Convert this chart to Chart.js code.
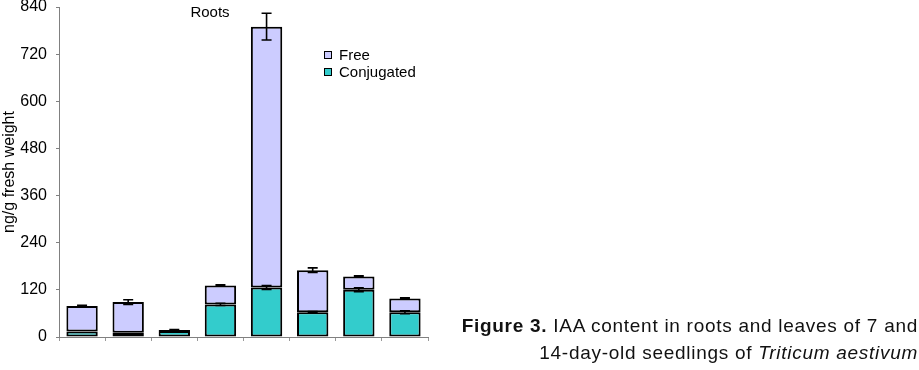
<!DOCTYPE html>
<html>
<head>
<meta charset="utf-8">
<script src="https://cdn.jsdelivr.net/npm/chart.js@4"></script>
<style>
  html, body { margin: 0; padding: 0; background: #fff; }
  #wrap { position: relative; width: 919px; height: 370px; }
  #c { position: absolute; left: 0; top: 0; }
  .cap { position: absolute; right: 1px; font-family: "Liberation Sans", Arial, sans-serif; font-size: 19px; letter-spacing: 0.72px; color: #111; white-space: nowrap; line-height: 1; }
</style>
</head>
<body>
<div id="wrap">
  <canvas id="c" width="919" height="370"></canvas>
  <div class="cap" style="top:316px;"><b>Figure 3.</b> IAA content in roots and leaves of 7 and</div>
  <div class="cap" style="top:343px;">14-day-old seedlings of <i>Triticum aestivum</i></div>
</div>
<script>
const categories = ['', '', '', '', '', '', '', ''];
const conjugated = [14, 11, 15, 83, 126, 63, 120, 63];
const free = [65, 78, 3, 48, 664, 107, 34, 35];
const conjugatedErr = [0, 0, 0, 3, 5, 2, 5, 4];
const freeErr = [2, 6, 1, 2, 34, 6, 2, 2];
const yTicks = [0, 120, 240, 360, 480, 600, 720, 840];
const seriesNames = ['Conjugated', 'Free'];
const chartTitle = 'Roots';
const yTitle = 'ng/g fresh weight';

const FONT = '"Liberation Sans", Arial, sans-serif';

const errorBars = {
  id: 'errorBars',
  afterDatasetsDraw(chart) {
    const ctx = chart.ctx;
    const y = chart.scales.y;
    const errs = [conjugatedErr, freeErr];
    ctx.save();
    ctx.strokeStyle = '#000';
    ctx.lineWidth = 1.6;
    chart.data.datasets.forEach((ds, di) => {
      const meta = chart.getDatasetMeta(di);
      meta.data.forEach((bar, i) => {
        let top = 0;
        for (let k = 0; k <= di; k++) top += chart.data.datasets[k].data[i];
        const e = errs[di][i];
        if (!e) return;
        const x = bar.x;
        const y1 = y.getPixelForValue(top + e);
        const y2 = y.getPixelForValue(top - e);
        const hw = 5;
        ctx.beginPath();
        ctx.moveTo(x, y1); ctx.lineTo(x, y2);
        ctx.moveTo(x - hw, y1); ctx.lineTo(x + hw, y1);
        ctx.moveTo(x - hw, y2); ctx.lineTo(x + hw, y2);
        ctx.stroke();
      });
    });
    ctx.restore();
  }
};

const extras = {
  id: 'extras',
  afterDraw(chart) {
    const ctx = chart.ctx;
    ctx.save();
    ctx.fillStyle = '#000';
    ctx.font = '15px ' + FONT;
    ctx.textAlign = 'center';
    ctx.textBaseline = 'alphabetic';
    ctx.fillText(chartTitle, 210, 17);
    const items = [
      { name: seriesNames[1], color: chart.data.datasets[1].backgroundColor, y: 55 },
      { name: seriesNames[0], color: chart.data.datasets[0].backgroundColor, y: 72 }
    ];
    ctx.textAlign = 'left';
    ctx.textBaseline = 'middle';
    items.forEach(it => {
      ctx.fillStyle = it.color;
      ctx.fillRect(324, it.y - 3.5, 7, 7);
      ctx.strokeStyle = '#000';
      ctx.lineWidth = 1;
      ctx.strokeRect(324.5, it.y - 3.5, 7, 7);
      ctx.fillStyle = '#000';
      ctx.fillText(it.name, 339, it.y + 1);
    });
    ctx.restore();
  }
};

new Chart(document.getElementById('c'), {
  type: 'bar',
  data: {
    labels: categories,
    datasets: [
      { label: seriesNames[0], data: conjugated, backgroundColor: '#33CCCC', borderColor: '#000', borderWidth: 2, borderSkipped: false },
      { label: seriesNames[1], data: free, backgroundColor: '#CCCCFF', borderColor: '#000', borderWidth: 2, borderSkipped: false }
    ]
  },
  options: {
    responsive: false,
    animation: false,
    devicePixelRatio: 1,
    layout: { padding: { left: 0, top: 7, right: 491, bottom: 0 } },
    plugins: { legend: { display: false }, tooltip: { enabled: false }, title: { display: false } },
    datasets: { bar: { categoryPercentage: 1, barPercentage: 0.68 } },
    scales: {
      x: {
        stacked: true,
        grid: { display: true, drawOnChartArea: false, drawTicks: true, tickLength: 4, color: '#999', offset: true },
        border: { display: true, color: '#808080', width: 1 },
        ticks: { display: true, font: { size: 1 } },
        afterFit(scale) { scale.height = 33; scale.paddingLeft = 0; scale.paddingRight = 0; }
      },
      y: {
        stacked: true,
        min: 0, max: 840,
        afterBuildTicks(scale) { scale.ticks = yTicks.map(v => ({ value: v })); },
        grid: { display: true, drawOnChartArea: false, drawTicks: true, tickLength: 3, color: '#808080' },
        border: { display: true, color: '#808080', width: 1 },
        ticks: { color: '#000', padding: 9, font: { family: FONT, size: 16 } },
        title: { display: true, text: yTitle, color: '#000', padding: { top: 0, bottom: 0 }, font: { family: FONT, size: 16 } },
        afterFit(scale) { scale.width = 59; scale.paddingTop = 0; scale.paddingBottom = 0; }
      }
    }
  },
  plugins: [errorBars, extras]
});
</script>
</body>
</html>
